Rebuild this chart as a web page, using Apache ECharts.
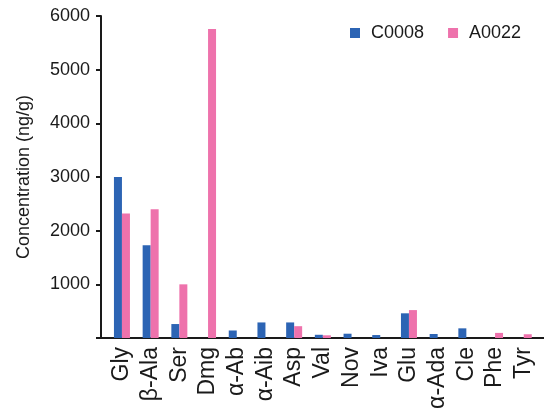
<!DOCTYPE html>
<html>
<head>
<meta charset="utf-8">
<script src="https://cdn.jsdelivr.net/npm/echarts@6/dist/echarts.min.js"></script>
<style>
    html, body { margin: 0; padding: 0; background: #fff; }
    #chart { width: 544px; height: 417px; }
</style>
</head>
<body>
<div id="chart"></div>
<script>
const categories = ['Gly', 'β-Ala', 'Ser', 'Dmg', 'α-Ab', 'α-Aib', 'Asp', 'Val', 'Nov', 'Iva', 'Glu', 'α-Ada', 'Cle', 'Phe', 'Tyr']
const c0008 = [3000, 1730, 260, 0, 140, 290, 290, 60, 80, 55, 460, 75, 180, 0, 0]
const a0022 = [2320, 2400, 1000, 5760, 0, 0, 220, 50, 0, 0, 520, 0, 0, 95, 70]
const yTicks = [0, 1000, 2000, 3000, 4000, 5000, 6000]

const colors = ['#2c64b4', '#ee72ac']
const font = '"Liberation Sans", Arial, sans-serif'
const ink = '#1a1a1a'

const chart = echarts.init(document.getElementById('chart'))

const options = {
    animation: false,
    color: colors,
    textStyle: { fontFamily: font },
    legend: {
        left: 345,
        top: 19,
        itemWidth: 10,
        itemHeight: 10,
        itemGap: 24,
        icon: 'rect',
        textStyle: { fontSize: 18, color: ink, fontFamily: font, padding: [0, 0, 0, 6] },
        data: ['C0008', 'A0022']
    },
    grid: [
        // frame grid: carries the visible y axis and the full-width bottom line
        { left: 101, right: 0, top: 16, bottom: 79 },
        // data grid: categories sit inside a slightly narrower band
        { left: 107.6, right: 5.9, top: 16, bottom: 79 }
    ],
    xAxis: [
        {
            gridIndex: 0,
            type: 'value',
            min: 0,
            max: 1,
            axisLine: { show: true, lineStyle: { color: ink, width: 2 } },
            axisTick: { show: false },
            axisLabel: { show: false },
            splitLine: { show: false }
        },
        {
            gridIndex: 1,
            type: 'category',
            data: categories,
            axisLine: { show: false },
            axisTick: { show: false },
            axisLabel: {
                interval: 0,
                rotate: 90,
                margin: 9,
                fontSize: 23,
                color: ink,
                fontFamily: font
            }
        }
    ],
    yAxis: [
        {
            gridIndex: 0,
            type: 'value',
            min: yTicks[0],
            max: yTicks[yTicks.length - 1],
            interval: 1000,
            name: 'Concentration (ng/g)',
            nameLocation: 'middle',
            nameGap: 68,
            nameTextStyle: { fontSize: 18, color: ink, fontFamily: font },
            axisLine: { show: true, lineStyle: { color: ink, width: 2 } },
            axisTick: { show: true, length: 5, lineStyle: { color: ink, width: 2 } },
            axisLabel: {
                margin: 11,
                fontSize: 18,
                color: ink,
                fontFamily: font,
                formatter: v => (v === 0 ? '' : v)
            },
            splitLine: { show: false }
        },
        {
            gridIndex: 1,
            type: 'value',
            min: yTicks[0],
            max: yTicks[yTicks.length - 1],
            show: false,
            splitLine: { show: false }
        }
    ],
    series: [
        {
            name: 'C0008',
            type: 'bar',
            xAxisIndex: 1,
            yAxisIndex: 1,
            barWidth: 8,
            barGap: '0%',
            data: c0008
        },
        {
            name: 'A0022',
            type: 'bar',
            xAxisIndex: 1,
            yAxisIndex: 1,
            barWidth: 8,
            barGap: '0%',
            data: a0022
        }
    ]
}

chart.setOption(options)
</script>
</body>
</html>
